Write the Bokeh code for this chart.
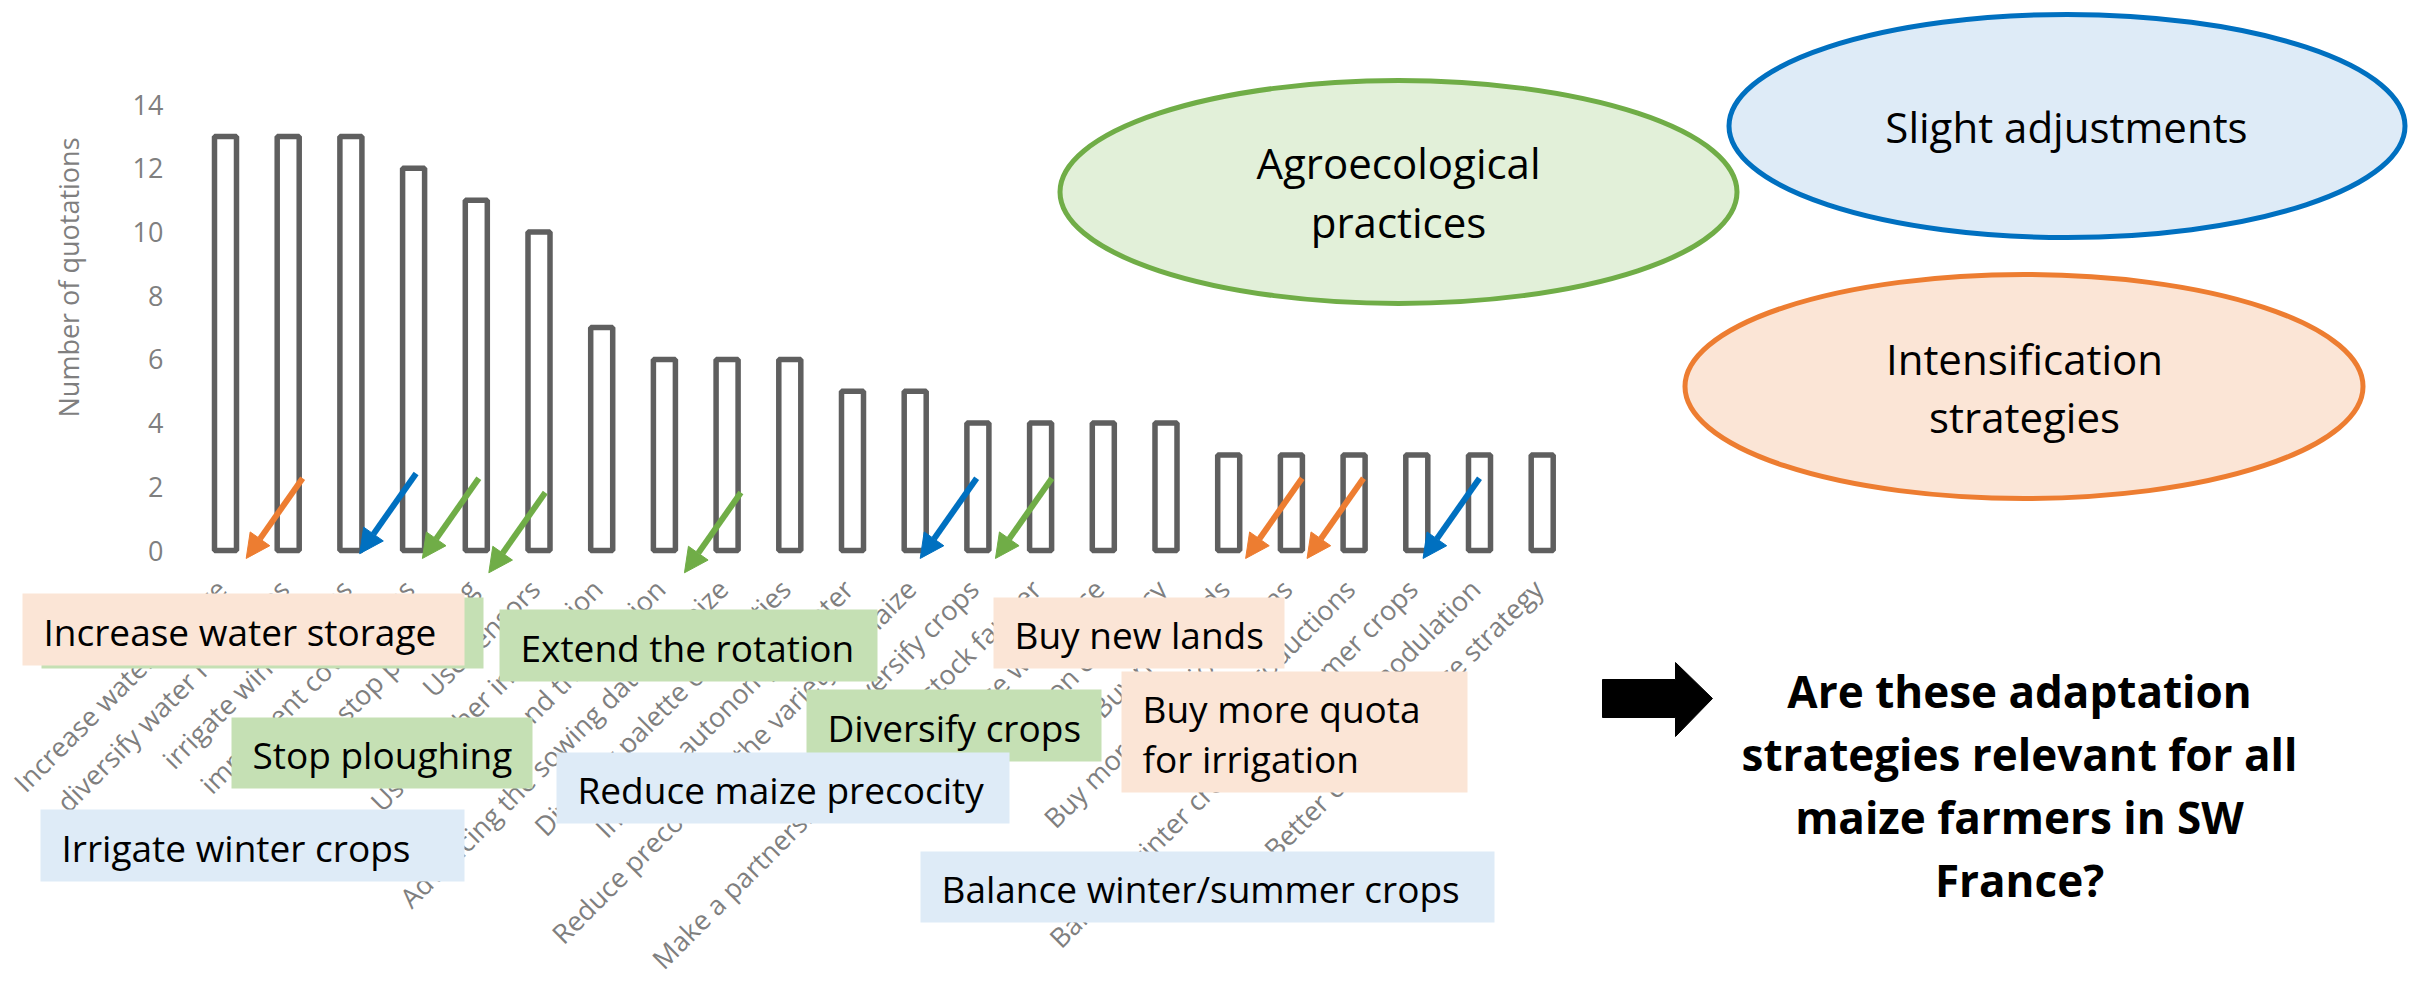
import math
from bokeh.plotting import figure
from bokeh.models import (Range1d, LinearAxis, FixedTicker, ColumnDataSource, LabelSet,
                          Label, BoxAnnotation, Arrow, NormalHead)
from bokeh.core.properties import value
from bokeh.embed import file_html
from bokeh.resources import INLINE

# ------------------------------------------------------------------ data
categories = [
    "Increase water storage",
    "diversify water resources",
    "irrigate winter crops",
    "implement cover crops",
    "stop ploughing",
    "Use sensors",
    "Use weather information",
    "Extend the rotation",
    "Advancing the sowing date of maize",
    "Diversify palette of varieties",
    "Increase autonomy in water",
    "Reduce precocity of the variety of maize",
    "Diversify crops",
    "Make a partnership with a livestock farmer",
    "Increase workforce",
    "Irrigation efficiency",
    "Buy new lands",
    "Buy more irrigation quotas",
    "Diversify productions",
    "Balance winter crops and summer crops",
    "Irrigation modulation",
    "Better crop insurance strategy",
]
quotations = [13, 13, 13, 12, 11, 10, 7, 6, 6, 6, 5, 5, 4, 4, 4, 4, 3, 3, 3, 3, 3, 3]
y_ticks = [0, 2, 4, 6, 8, 10, 12, 14]
y_title = "Number of quotations"

# strategies pointed at by a coloured arrow (category index, family)
highlight_index = [0, 2, 3, 4, 7, 11, 12, 16, 17, 19]
highlight_family = ["intens", "slight", "agro", "agro", "agro",
                    "slight", "agro", "intens", "intens", "slight"]

family_title = {"agro": ["Agroecological", "practices"],
                "slight": ["Slight adjustments"],
                "intens": ["Intensification", "strategies"]}

callout_text = ["Increase water storage", "Extend the rotation", "Stop ploughing",
                "Irrigate winter crops", "Diversify crops", "Reduce maize precocity",
                "Buy new lands", "Buy more quota\nfor irrigation", "Balance winter/summer crops"]
callout_family = ["intens", "agro", "agro", "slight", "agro", "slight",
                  "intens", "intens", "slight"]

question = ["Are these adaptation", "strategies relevant for all",
            "maize farmers in SW", "France?"]

# ------------------------------------------------------------------ styling / layout
LINE = {"agro": "#70AD47", "slight": "#0070C0", "intens": "#ED7D31"}
ELL_FILL = {"agro": "#E2F0D9", "slight": "#DEEBF7", "intens": "#FBE5D6"}
BOX_FILL = {"agro": "#C5E0B4", "slight": "#DEEBF7", "intens": "#FBE5D6"}
FONT = "Open Sans"
GREY_TXT = "#7f7f7f"
BAR_LINE = "#5f5f5f"

W, H = 2410, 985                    # the frame fills the whole canvas
BAR0_X, BAR_STEP = 225.0, 62.7      # page px of first bar centre, spacing
ZERO_Y, UNIT_Y = 550.0, 31.85       # page px of value 0, px per quotation
AXIS_X = 173.0                      # page px of the (invisible) y-axis line

p = figure(width=W, height=H, output_backend="svg", toolbar_location=None,
           x_range=Range1d((0 - BAR0_X) / BAR_STEP, (W - BAR0_X) / BAR_STEP),
           y_range=Range1d((ZERO_Y - H) / UNIT_Y, (ZERO_Y - 0) / UNIT_Y),
           x_axis_location=None, y_axis_location=None,
           min_border_left=0, min_border_right=0, min_border_top=0, min_border_bottom=0)
p.extra_x_ranges = {"px": Range1d(0, W)}
p.extra_y_ranges = {"px": Range1d(H, 0)}
p.outline_line_color = None
p.background_fill_color = "white"
p.border_fill_color = "white"
for g in p.grid:
    g.visible = False

# y axis (drawn inside the frame at a fixed location)
yaxis = LinearAxis(ticker=FixedTicker(ticks=y_ticks),
                   fixed_location=(AXIS_X - BAR0_X) / BAR_STEP,
                   axis_line_color=None, major_tick_line_color=None,
                   minor_tick_line_color=None, major_tick_in=0, major_tick_out=0,
                   minor_tick_in=0, minor_tick_out=0, major_label_standoff=10,
                   major_label_text_font=FONT, major_label_text_font_size="27px",
                   major_label_text_color=GREY_TXT)
p.add_layout(yaxis, "left")
p.add_layout(Label(x=68, y=277, text=y_title, angle=math.pi / 2,
                   x_range_name="px", y_range_name="px",
                   text_align="center", text_baseline="middle",
                   text_font=FONT, text_font_size="27px", text_color=GREY_TXT))

# bars
idx = list(range(len(categories)))
p.vbar(x=idx, top=quotations, bottom=0, width=0.351, fill_color="white",
       line_color=BAR_LINE, line_width=5.5)

# category labels (rotated 45 degrees, ending under each bar)
LABEL_Y, LABEL_DX = -1.05, -0.07
src = ColumnDataSource(dict(x=[i + LABEL_DX for i in idx], y=[LABEL_Y] * len(idx),
                            text=categories))
p.add_layout(LabelSet(x="x", y="y", text="text", source=src, angle=math.pi / 4,
                      text_align="right", text_baseline="middle",
                      text_font=value(FONT), text_font_size="27px", text_color=GREY_TXT))

# coloured arrows pointing at highlighted strategies
tip_dx = [0.33, 0.14, 0.14, 0.2, 0.32, 0.08, 0.28, 0.27, 0.25, 0.1]
tip_y = [-0.25, -0.1, -0.25, -0.7, -0.7, -0.25, -0.25, -0.25, -0.25, -0.25]
for k, (i, fam) in enumerate(zip(highlight_index, highlight_family)):
    c = LINE[fam]
    xe, ye = i + tip_dx[k], tip_y[k]
    p.add_layout(Arrow(x_start=xe + 0.9, y_start=ye + 2.52, x_end=xe, y_end=ye,
                       line_color=c, line_width=6,
                       end=NormalHead(size=24, fill_color=c, line_color=c, line_width=1)))

# callout boxes (page px)
boxes = [  # left, right, top, bottom
    (22, 464, 593, 665), (499, 877, 609, 681), (231, 532, 717, 788),
    (40, 464, 809, 881), (806, 1101, 689, 761), (556, 1009, 752, 823),
    (993, 1284, 597, 668), (1121, 1467, 671, 792), (920, 1494, 851, 922)]
# green box peeking out behind "Increase water storage"
p.add_layout(BoxAnnotation(left=41, right=483, top=597, bottom=668,
                           x_range_name="px", y_range_name="px",
                           fill_color=BOX_FILL["agro"], fill_alpha=1, line_color=None))
for (l, r, t, b), txt, fam in zip(boxes, callout_text, callout_family):
    p.add_layout(BoxAnnotation(left=l, right=r, top=t, bottom=b,
                               x_range_name="px", y_range_name="px",
                               fill_color=BOX_FILL[fam], fill_alpha=1, line_color=None))
    lines = txt.split("\n")
    cy = (t + b) / 2 + 1.5
    for j, ln in enumerate(lines):
        yy = cy + (j - (len(lines) - 1) / 2) * 50
        p.add_layout(Label(x=l + 21, y=yy, text=ln, x_range_name="px", y_range_name="px",
                           text_align="left", text_baseline="middle",
                           text_font=FONT, text_font_size="37px", text_color="black"))

# family ellipses
ellipses = {"agro": (1398, 191.5, 677, 223), "slight": (2066.5, 125.5, 676, 223),
            "intens": (2023.5, 386, 678, 224)}
ell_text_x = {"agro": 1398, "slight": 2066, "intens": 2024}
ell_text_y = {"agro": [162, 221], "slight": [126], "intens": [358, 416]}
for fam, (cx, cy, w, h) in ellipses.items():
    p.ellipse(x=[cx], y=[cy], width=[w], height=[h], x_range_name="px", y_range_name="px",
              fill_color=ELL_FILL[fam], line_color=LINE[fam], line_width=5)
    for ln, yy in zip(family_title[fam], ell_text_y[fam]):
        p.add_layout(Label(x=ell_text_x[fam], y=yy, text=ln, x_range_name="px", y_range_name="px",
                           text_align="center", text_baseline="middle",
                           text_font=FONT, text_font_size="42px", text_color="black"))

# big black arrow + question
p.patch(x=[1602, 1675, 1675, 1712, 1675, 1675, 1602],
        y=[679, 679, 662, 698, 736, 717, 717],
        x_range_name="px", y_range_name="px",
        fill_color="black", line_color="black", line_width=1)
for j, ln in enumerate(question):
    p.add_layout(Label(x=2019, y=690 + 63 * j, text=ln, x_range_name="px", y_range_name="px",
                       text_align="center", text_baseline="middle", text_font=FONT,
                       text_font_size="44px", text_font_style="bold", text_color="black"))

open("out.html", "w").write(file_html(p, INLINE))
